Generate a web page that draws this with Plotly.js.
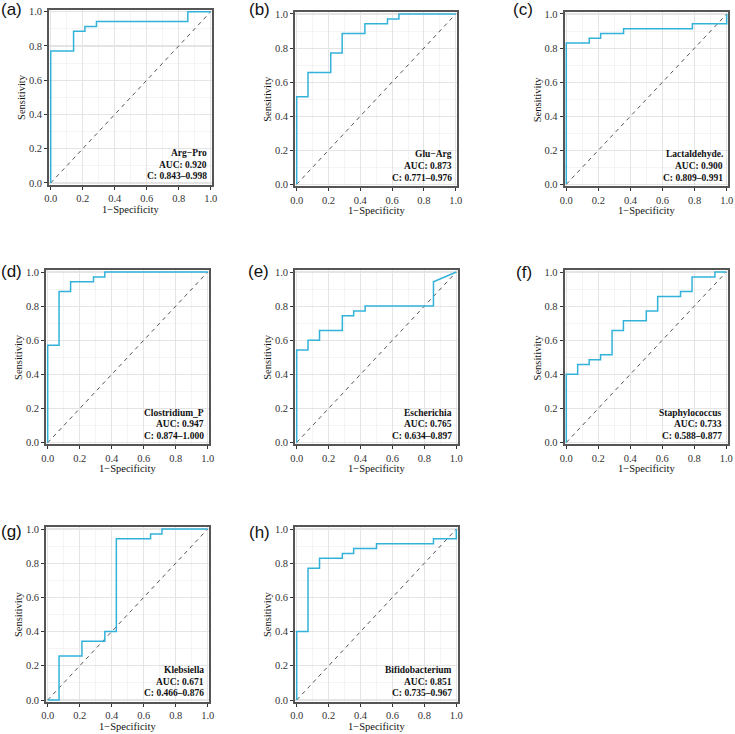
<!DOCTYPE html>
<html><head><meta charset="utf-8">
<script src="https://cdn.plot.ly/plotly-3.0.1.min.js"></script>
<style>html,body{margin:0;padding:0;background:#fff}#chart{width:735px;height:734px}</style>
</head><body><div id="chart"></div>
<script>
// ---------------- data ----------------
const panelLetters = ['(a)','(b)','(c)','(d)','(e)','(f)','(g)','(h)'];
const markerNames = ['Arg\u2212Pro','Glu\u2212Arg','Lactaldehyde.','Clostridium_P','Escherichia','Staphylococcus','Klebsiella','Bifidobacterium'];
const aucLabels = ['AUC: 0.920','AUC: 0.873','AUC: 0.900','AUC: 0.947','AUC: 0.765','AUC: 0.733','AUC: 0.671','AUC: 0.851'];
const ciLabels = ['C: 0.843\u20130.998','C: 0.771\u20130.976','C: 0.809\u20130.991','C: 0.874\u20131.000','C: 0.634\u20130.897','C: 0.588\u20130.877','C: 0.466\u20130.876','C: 0.735\u20130.967'];
const tickValues = [0,0.2,0.4,0.6,0.8,1.0];
const tickLabels = ['0.0','0.2','0.4','0.6','0.8','1.0'];
const xTitle = '1\u2212Specificity';
const yTitle = 'Sensitivity';

// ROC curves: x = 1-Specificity, y = Sensitivity
const fprA = [0,0,0.143,0.143,0.214,0.214,0.286,0.286,0.857,0.857,1];
const tprA = [0,0.771,0.771,0.886,0.886,0.914,0.914,0.943,0.943,1,1];
const fprB = [0,0,0.071,0.071,0.214,0.214,0.286,0.286,0.429,0.429,0.571,0.571,0.643,0.643,1];
const tprB = [0,0.514,0.514,0.657,0.657,0.771,0.771,0.886,0.886,0.943,0.943,0.971,0.971,1,1];
const fprC = [0,0,0.143,0.143,0.214,0.214,0.357,0.357,0.786,0.786,1,1];
const tprC = [0,0.829,0.829,0.857,0.857,0.886,0.886,0.914,0.914,0.943,0.943,1];
const fprD = [0,0,0.071,0.071,0.143,0.143,0.286,0.286,0.357,0.357,1];
const tprD = [0,0.571,0.571,0.886,0.886,0.943,0.943,0.971,0.971,1,1];
const fprE = [0,0,0.071,0.071,0.143,0.143,0.286,0.286,0.357,0.357,0.429,0.429,0.857,0.857,1];
const tprE = [0,0.543,0.543,0.600,0.600,0.657,0.657,0.743,0.743,0.771,0.771,0.800,0.800,0.943,1];
const fprF = [0,0,0.071,0.071,0.143,0.143,0.214,0.214,0.286,0.286,0.357,0.357,0.500,0.500,0.571,0.571,0.714,0.714,0.786,0.786,0.929,0.929,1];
const tprF = [0,0.400,0.400,0.457,0.457,0.486,0.486,0.514,0.514,0.657,0.657,0.714,0.714,0.771,0.771,0.857,0.857,0.886,0.886,0.971,0.971,1,1];
const fprG = [0,0.071,0.071,0.214,0.214,0.357,0.357,0.429,0.429,0.643,0.643,0.714,0.714,1];
const tprG = [0,0,0.257,0.257,0.343,0.343,0.400,0.400,0.943,0.943,0.971,0.971,1,1];
const fprH = [0,0,0.071,0.071,0.143,0.143,0.286,0.286,0.357,0.357,0.500,0.500,0.857,0.857,1,1];
const tprH = [0,0.400,0.400,0.771,0.771,0.829,0.829,0.857,0.857,0.886,0.886,0.914,0.914,0.943,0.943,1];
const diagX = [0,1];
const diagY = [0,1];

const curvesX = [fprA,fprB,fprC,fprD,fprE,fprF,fprG,fprH];
const curvesY = [tprA,tprB,tprC,tprD,tprE,tprF,tprG,tprH];

// ---------------- layout (pixel positions of data 0 and 1) ----------------
const W = 735, H = 734;
const frames = [
  {x0:50.7, x1:210.7, yTop:11.7, yBot:183.0, lx:11,  ly:9.5},
  {x0:296.7,x1:455.7, yTop:14.0, yBot:184.3, lx:259, ly:9.5},
  {x0:566.3,x1:726.7, yTop:14.0, yBot:184.3, lx:522.5,ly:9.5},
  {x0:47.7, x1:207.7, yTop:272.0,yBot:442.7, lx:11,  ly:271.7},
  {x0:296.7,x1:456.3, yTop:272.0,yBot:442.5, lx:258, ly:271.7},
  {x0:566.3,x1:726.3, yTop:272.0,yBot:442.5, lx:524, ly:272.3},
  {x0:47.7, x1:207.7, yTop:529.0,yBot:700.0, lx:11,  ly:531.7},
  {x0:296.7,x1:456.3, yTop:529.0,yBot:700.0, lx:259, ly:532.7}
];
const pad = 0.01;
const curveColor = '#33b2d9';
const serif = 'Liberation Serif, Times New Roman, serif';

const traces = [];
const layout = {
  width: W, height: H,
  margin: {l:0,r:0,t:0,b:0},
  paper_bgcolor: '#ffffff', plot_bgcolor: '#ffffff',
  showlegend: false,
  annotations: []
};
const px = v => v / W;
const py = v => 1 - v / H;

frames.forEach((f, i) => {
  const n = i === 0 ? '' : String(i + 1);
  const xa = 'x' + n, ya = 'y' + n;
  const sx = f.x1 - f.x0, sy = f.yBot - f.yTop;
  const left = f.x0 - pad * sx, right = f.x1 + pad * sx;
  const top = f.yTop - pad * sy, bot = f.yBot + pad * sy;
  const common = {
    range: [-pad, 1 + pad], tickmode: 'array', tickvals: tickValues, ticktext: tickLabels,
    ticks: 'outside', ticklen: 3, tickwidth: 1, tickcolor: '#333333',
    tickfont: {family: serif, size: 10.5, color: '#333333'},
    showgrid: true, gridcolor: '#e4e4e4', gridwidth: 1.1,
    minor: {dtick: 0.1, tick0: 0, showgrid: true, gridcolor: '#efefef', gridwidth: 0.7, ticks: ''},
    showline: true, mirror: true, linecolor: '#555555', linewidth: 2,
    zeroline: false, fixedrange: true
  };
  layout['xaxis' + n] = Object.assign({}, common, {domain: [px(left), px(right)], anchor: ya});
  layout['yaxis' + n] = Object.assign({}, common, {domain: [py(bot), py(top)], anchor: xa});

  traces.push({x: diagX, y: diagY, xaxis: xa, yaxis: ya, mode: 'lines', type: 'scatter',
    line: {color: '#555555', width: 1, dash: '4px,4px'}, hoverinfo: 'skip'});
  traces.push({x: curvesX[i], y: curvesY[i], xaxis: xa, yaxis: ya, mode: 'lines', type: 'scatter',
    line: {color: curveColor, width: 1.5}, hoverinfo: 'skip'});

  const frameRight = right, frameBot = bot;
  const textLines = [markerNames[i], aucLabels[i], ciLabels[i]];
  const offsets = [31.6, 20.0, 8.3];
  textLines.forEach((t, k) => {
    layout.annotations.push({text: '<b>' + t + '</b>', xref: 'paper', yref: 'paper',
      x: px(frameRight - 3.5), y: py(frameBot - offsets[k]), xanchor: 'right', yanchor: 'middle',
      showarrow: false, font: {family: serif, size: 9.5, color: '#111111'}});
  });
  layout.annotations.push({text: yTitle, xref: 'paper', yref: 'paper', textangle: -90,
    x: px(left - 27.5), y: py((top + bot) / 2), xanchor: 'center', yanchor: 'middle',
    showarrow: false, font: {family: serif, size: 10.5, color: '#111111'}});
  layout.annotations.push({text: xTitle, xref: 'paper', yref: 'paper',
    x: px((f.x0 + f.x1) / 2), y: py(bot + 24.5), xanchor: 'center', yanchor: 'middle',
    showarrow: false, font: {family: serif, size: 10.5, color: '#111111'}});
  layout.annotations.push({text: panelLetters[i], xref: 'paper', yref: 'paper',
    x: px(f.lx), y: py(f.ly), xanchor: 'center', yanchor: 'middle',
    showarrow: false, font: {family: 'Liberation Sans, Arial, sans-serif', size: 17, color: '#111111'}});
});

Plotly.newPlot('chart', traces, layout, {staticPlot: true, displayModeBar: false});
</script>
</body></html>
